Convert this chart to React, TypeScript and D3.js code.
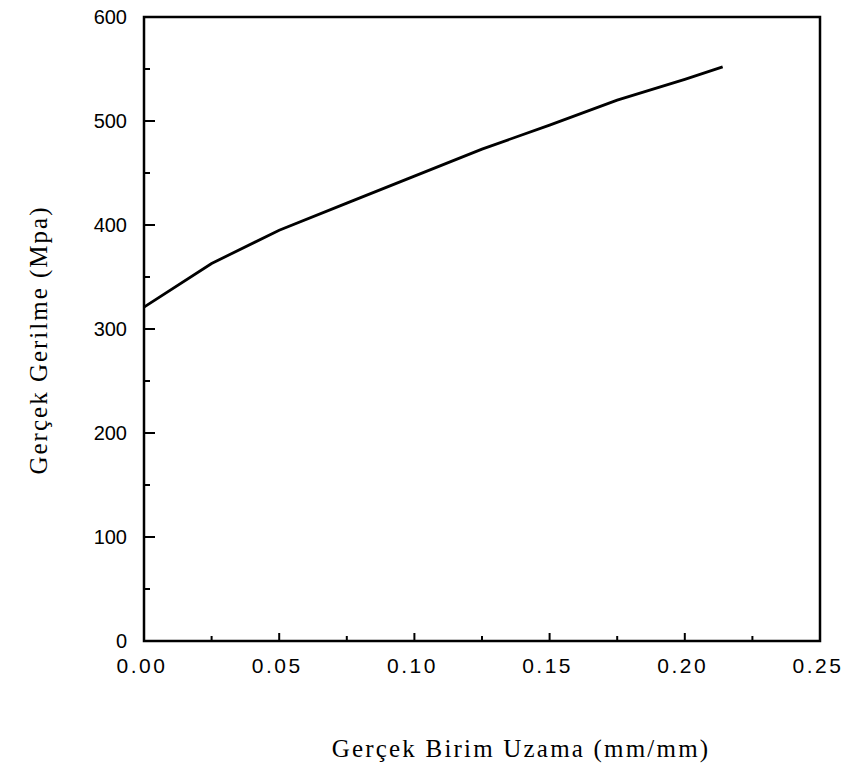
import { useEffect, useRef } from "react";
import * as d3 from "d3";

// true strain (mm/mm) vs true stress (MPa)
const strain = [0, 0.025, 0.05, 0.075, 0.1, 0.125, 0.15, 0.175, 0.2, 0.214];
const stress = [321, 363, 395, 421, 447, 473, 496, 520, 540, 552];

const xTicks = [0, 0.05, 0.1, 0.15, 0.2, 0.25];
const yTicks = [0, 100, 200, 300, 400, 500, 600];

const xTitle = "Gerçek Birim Uzama (mm/mm)";
const yTitle = "Gerçek Gerilme (Mpa)";

export default function App() {
  const ref = useRef<SVGSVGElement>(null);

  const width = 845;
  const height = 769;
  const margin = { top: 17, right: 25, bottom: 128, left: 144 };

  useEffect(() => {
    const svg = d3.select(ref.current);
    svg.selectAll("*").remove();

    const x = d3.scaleLinear().domain([0, 0.25]).range([margin.left, width - margin.right]);
    const y = d3.scaleLinear().domain([0, 600]).range([height - margin.bottom, margin.top]);

    const g = svg.append("g");

    // frame
    g.append("rect")
      .attr("x", x(0))
      .attr("y", y(600))
      .attr("width", x(0.25) - x(0))
      .attr("height", y(0) - y(600))
      .attr("fill", "none")
      .attr("stroke", "#000")
      .attr("stroke-width", 2.5);

    // inward ticks, major + minor
    const xMinor = d3.range(0, 0.2501, 0.025);
    xMinor.forEach((v, i) => {
      const len = i % 2 === 0 ? 8 : 5;
      if (v === 0 || v > 0.249) return;
      g.append("line")
        .attr("x1", x(v)).attr("x2", x(v))
        .attr("y1", y(0)).attr("y2", y(0) - len)
        .attr("stroke", "#000").attr("stroke-width", 2);
    });
    const yMinor = d3.range(0, 601, 50);
    yMinor.forEach((v, i) => {
      const len = i % 2 === 0 ? 11 : 6;
      if (v === 0 || v === 600) return;
      g.append("line")
        .attr("x1", x(0)).attr("x2", x(0) + len)
        .attr("y1", y(v)).attr("y2", y(v))
        .attr("stroke", "#000").attr("stroke-width", 2);
    });

    // tick labels
    g.selectAll(".xt")
      .data(xTicks)
      .join("text")
      .attr("x", (d) => x(d) - 2)
      .attr("y", y(0) + 32)
      .attr("text-anchor", "middle")
      .attr("font-family", "Liberation Sans, Arial, sans-serif")
      .attr("font-size", 21)
      .attr("letter-spacing", 2.5)
      .text((d) => d3.format(".2f")(d));

    g.selectAll(".yt")
      .data(yTicks)
      .join("text")
      .attr("x", x(0) - 17)
      .attr("y", (d) => y(d) + 7)
      .attr("text-anchor", "end")
      .attr("font-family", "Liberation Sans, Arial, sans-serif")
      .attr("font-size", 20)
      .text((d) => d);

    // curve
    const pts = strain.map((s, i) => [s, stress[i]] as [number, number]);
    const line = d3
      .line<[number, number]>()
      .x((d) => x(d[0]))
      .y((d) => y(d[1]));
    g.append("path")
      .attr("d", line(pts))
      .attr("fill", "none")
      .attr("stroke", "#000")
      .attr("stroke-width", 2.8);

    // axis titles
    g.append("text")
      .attr("x", 521)
      .attr("y", 757)
      .attr("text-anchor", "middle")
      .attr("font-family", "Liberation Serif, Times New Roman, serif")
      .attr("font-size", 25)
      .attr("letter-spacing", 2.2)
      .text(xTitle);

    g.append("text")
      .attr("transform", `translate(47, 340) rotate(-90)`)
      .attr("text-anchor", "middle")
      .attr("font-family", "Liberation Serif, Times New Roman, serif")
      .attr("font-size", 25)
      .attr("letter-spacing", 2)
      .text(yTitle);
  }, []);

  return (
    <svg
      ref={ref}
      width={width}
      height={height}
      style={{ position: "absolute", left: 0, top: 0, background: "#fff" }}
    />
  );
}
